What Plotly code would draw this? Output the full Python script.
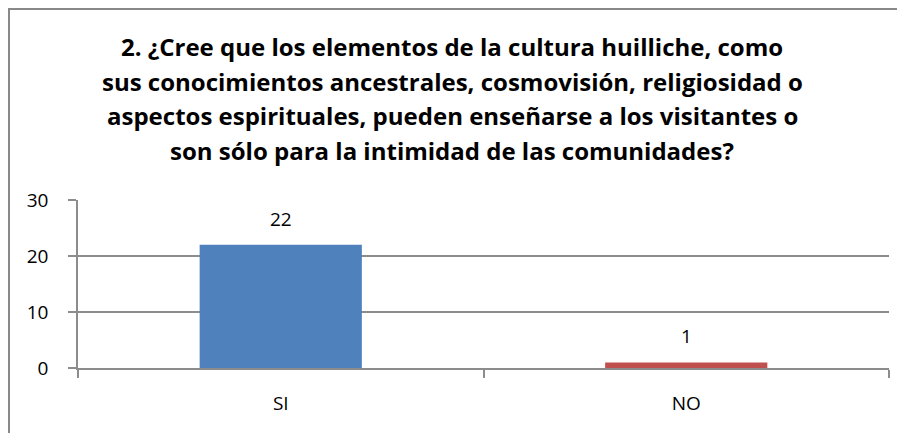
import plotly.graph_objects as go

categories = ["SI", "NO"]
values = [22, 1]
bar_colors = ["#4F81BD", "#C0504D"]

title_lines = [
    "2. ¿Cree que los elementos de la cultura huilliche, como",
    "sus conocimientos ancestrales, cosmovisión, religiosidad o",
    "aspectos espirituales, pueden enseñarse a los visitantes o",
    "son sólo para la intimidad de las comunidades?",
]

# page has an 8px body margin, so figure coords = page coords - 8
W, H = 897, 425
L, R, T, B = 70, 16, 192, 65
PW, PH = W - L - R, H - T - B

fig = go.Figure()

fig.add_trace(go.Bar(
    x=categories,
    y=values,
    marker=dict(color=bar_colors, line=dict(width=0)),
    width=0.4,
    hoverinfo="x+y",
))

# value labels above the bars
for c, v in zip(categories, values):
    fig.add_annotation(x=c, y=v, text=str(v), showarrow=False,
                       yanchor="bottom", yshift=11,
                       font=dict(size=19, color="#000000"))

# title, one line per annotation, centred on the whole chart frame
for i, line in enumerate(title_lines):
    fig.add_annotation(x=(444 - L) / PW, xref="paper", y=(H - B - [39, 73, 107, 142][i]) / PH,
                       yref="paper", yanchor="middle", xanchor="center",
                       text=f"<b>{line}</b>", showarrow=False,
                       font=dict(size=24, color="#000000"))

# outer chart frame (Excel style)
fig.add_shape(type="rect", xref="paper", yref="paper",
              x0=(1 - L) / PW, x1=(W + 40 - L) / PW,
              y0=-(B + 40) / PH, y1=1 + (T - 1) / PH,
              line=dict(color="#898989", width=2), fillcolor="rgba(0,0,0,0)")

fig.update_layout(
    width=W, height=H,
    margin=dict(l=L, r=R, t=T, b=B),
    paper_bgcolor="white", plot_bgcolor="white",
    font=dict(family="'Open Sans', sans-serif", size=19, color="#000000"),
    showlegend=False,
    xaxis=dict(showgrid=False, showline=True, linecolor="#8c8c8c", linewidth=1.5,
               ticks="outside", tickson="boundaries", ticklen=8, tickcolor="#8c8c8c",
               tickwidth=1.5, ticklabelstandoff=17, tickfont=dict(size=19)),
    yaxis=dict(range=[0, 30], dtick=10, showgrid=True, gridcolor="#8c8c8c", gridwidth=1.5,
               showline=True, linecolor="#8c8c8c", linewidth=1.5, zeroline=False,
               ticks="outside", ticklen=8, tickcolor="#8c8c8c", tickwidth=1.5,
               ticklabelstandoff=16, tickfont=dict(size=19)),
)

fig.write_html("out.html")
